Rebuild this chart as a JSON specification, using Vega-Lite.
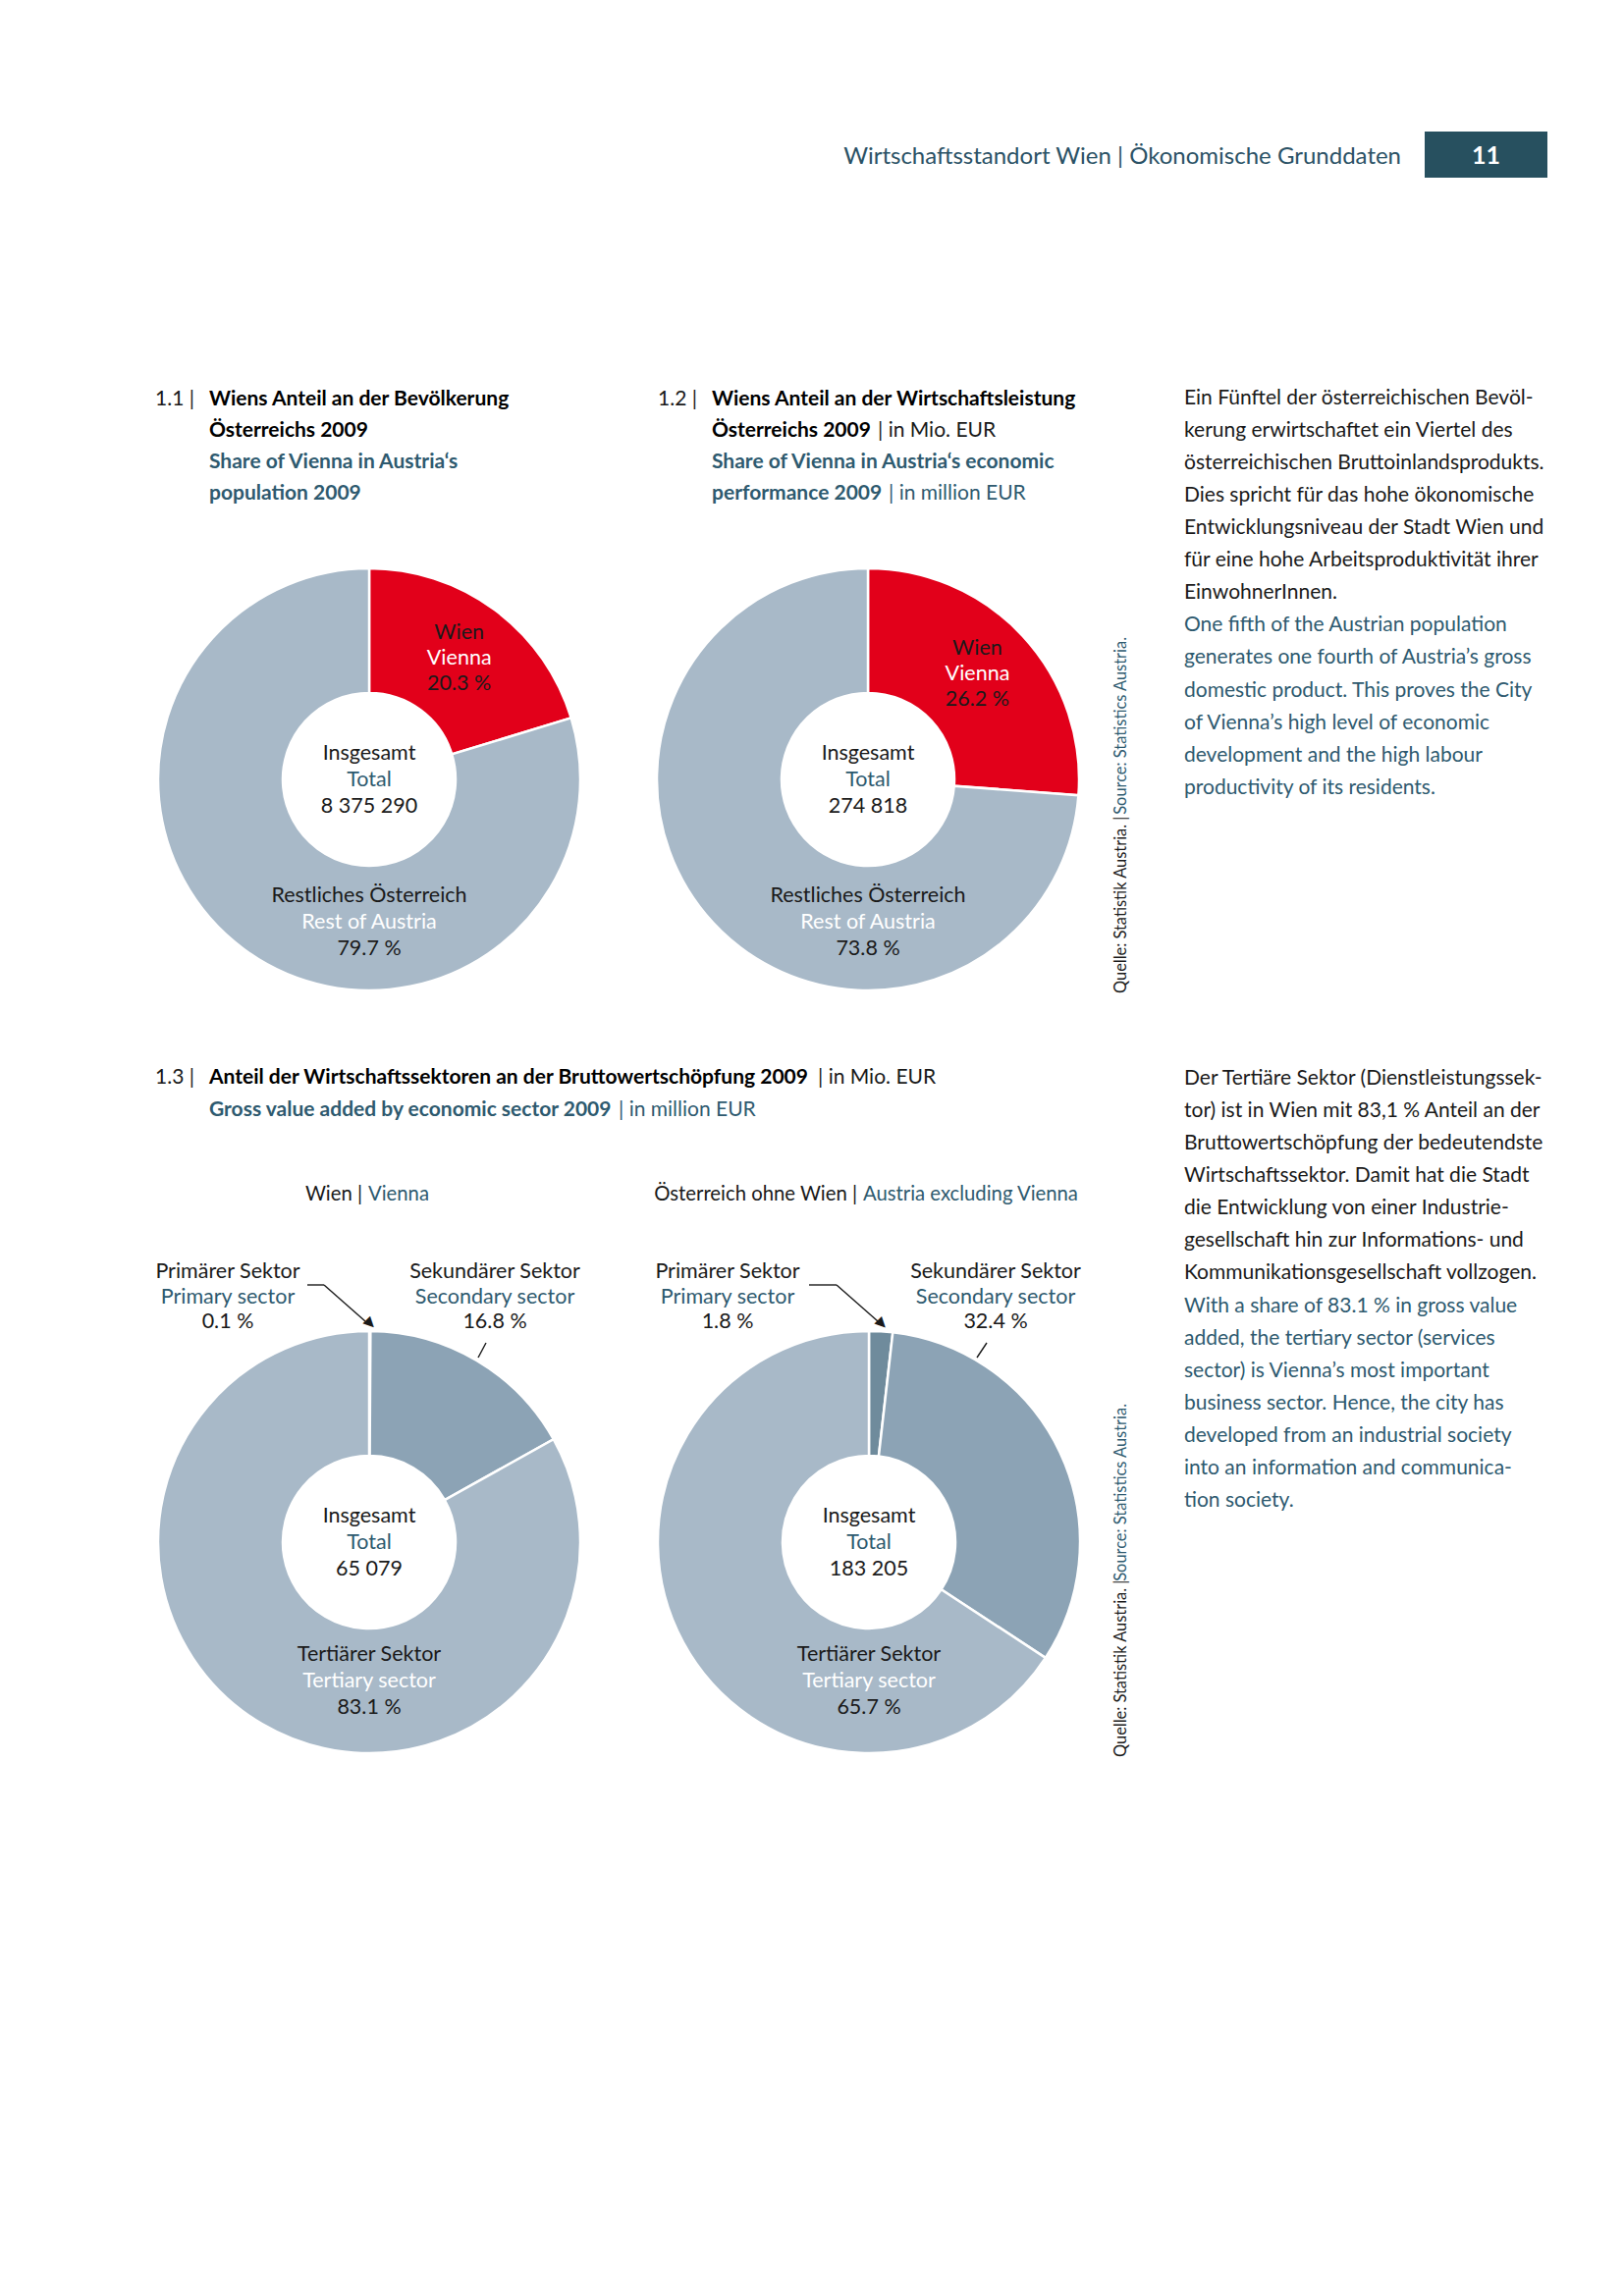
{
  "$schema": "https://vega.github.io/schema/vega-lite/v6.json",
  "width": 1654,
  "height": 2339,
  "autosize": {"type": "fit", "contains": "padding"},
  "padding": 0,
  "background": "#ffffff",
  "config": {
    "view": {"stroke": null},
    "locale": {"number": {"decimal": ".", "thousands": " ", "grouping": [3], "currency": ["", ""], "percent": " %"}},
    "text": {"font": "Lato", "fontSize": 21.5, "baseline": "alphabetic", "align": "center", "fill": "#1a1a1a"}
  },
  "datasets": {
    "slices": [
      {"chart": "1.1", "k": 1, "de": "Wien", "en": "Vienna", "share": 0.203, "total": 8375290},
      {"chart": "1.1", "k": 2, "de": "Restliches Österreich", "en": "Rest of Austria", "share": 0.797, "total": 8375290},
      {"chart": "1.2", "k": 1, "de": "Wien", "en": "Vienna", "share": 0.262, "total": 274818},
      {"chart": "1.2", "k": 2, "de": "Restliches Österreich", "en": "Rest of Austria", "share": 0.738, "total": 274818},
      {"chart": "1.3a", "k": 1, "de": "Primärer Sektor", "en": "Primary sector", "share": 0.001, "total": 65079},
      {"chart": "1.3a", "k": 2, "de": "Sekundärer Sektor", "en": "Secondary sector", "share": 0.168, "total": 65079},
      {"chart": "1.3a", "k": 3, "de": "Tertiärer Sektor", "en": "Tertiary sector", "share": 0.831, "total": 65079},
      {"chart": "1.3b", "k": 1, "de": "Primärer Sektor", "en": "Primary sector", "share": 0.018, "total": 183205},
      {"chart": "1.3b", "k": 2, "de": "Sekundärer Sektor", "en": "Secondary sector", "share": 0.324, "total": 183205},
      {"chart": "1.3b", "k": 3, "de": "Tertiärer Sektor", "en": "Tertiary sector", "share": 0.657, "total": 183205}
    ]
  },
  "resolve": {"scale": {"theta": "independent"}},
  "layer": [
    {"data": {"values": [{}]}, "mark": {"type": "text", "text": "Wirtschaftsstandort Wien | Ökonomische Grunddaten", "x": 1427, "y": 167, "align": "right", "fontSize": 24, "fill": "#2b5266"}},
    {"data": {"values": [{}]}, "mark": {"type": "rect", "fill": "#27505f"}, "encoding": {"x": {"value": 1451}, "x2": {"value": 1576}, "y": {"value": 134}, "y2": {"value": 181}}},
    {"data": {"values": [{}]}, "mark": {"type": "text", "text": "11", "x": 1513.5, "y": 167, "fontSize": 25, "fontWeight": "bold", "fill": "#ffffff"}},

    {"data": {"values": [{}]}, "mark": {"type": "text", "text": "1.1 |", "x": 158, "y": 412.7, "align": "left", "fontSize": 21, "fill": "#1a1a1a"}},
    {"data": {"values": [{}]}, "mark": {"type": "text", "text": ["Wiens Anteil an der Bevölkerung", "Österreichs 2009"], "x": 213, "y": 412.7, "align": "left", "fontSize": 21, "fontWeight": "bold", "lineHeight": 32, "fill": "#000000"}},
    {"data": {"values": [{}]}, "mark": {"type": "text", "text": ["Share of Vienna in Austria‘s", "population 2009"], "x": 213, "y": 476.7, "align": "left", "fontSize": 21, "fontWeight": "bold", "lineHeight": 32, "fill": "#2e5a6f"}},

    {"data": {"values": [{}]}, "mark": {"type": "text", "text": "1.2 |", "x": 670, "y": 412.7, "align": "left", "fontSize": 21, "fill": "#1a1a1a"}},
    {"data": {"values": [{}]}, "mark": {"type": "text", "text": ["Wiens Anteil an der Wirtschaftsleistung", "Österreichs 2009"], "x": 725, "y": 412.7, "align": "left", "fontSize": 21, "fontWeight": "bold", "lineHeight": 32, "fill": "#000000"}},
    {"data": {"values": [{}]}, "mark": {"type": "text", "text": "| in Mio. EUR", "x": 894, "y": 444.7, "align": "left", "fontSize": 21, "fill": "#1a1a1a"}},
    {"data": {"values": [{}]}, "mark": {"type": "text", "text": ["Share of Vienna in Austria‘s economic", "performance 2009"], "x": 725, "y": 476.7, "align": "left", "fontSize": 21, "fontWeight": "bold", "lineHeight": 32, "fill": "#2e5a6f"}},
    {"data": {"values": [{}]}, "mark": {"type": "text", "text": "| in million EUR", "x": 905, "y": 508.7, "align": "left", "fontSize": 21, "fill": "#2e5a6f"}},

    {"data": {"values": [{}]}, "mark": {"type": "text", "text": ["Ein Fünftel der österreichischen Bevöl-", "kerung erwirtschaftet ein Viertel des", "österreichischen Bruttoinlandsprodukts.", "Dies spricht für das hohe ökonomische", "Entwicklungsniveau der Stadt Wien und", "für eine hohe Arbeitsproduktivität ihrer", "EinwohnerInnen."], "x": 1206, "y": 411.7, "align": "left", "fontSize": 21, "lineHeight": 33.1, "fill": "#1a1a1a"}},
    {"data": {"values": [{}]}, "mark": {"type": "text", "text": ["One fifth of the Austrian population", "generates one fourth of Austria’s gross", "domestic product. This proves the City", "of Vienna’s high level of economic", "development and the high labour", "productivity of its residents."], "x": 1206, "y": 643.4, "align": "left", "fontSize": 21, "lineHeight": 33.1, "fill": "#2e5a6f"}},

    {"data": {"values": [{}]}, "mark": {"type": "text", "text": "Quelle: Statistik Austria. |", "x": 1147, "y": 1012, "angle": 270, "align": "left", "fontSize": 16.4, "fill": "#1a1a1a"}},
    {"data": {"values": [{}]}, "mark": {"type": "text", "text": "Source: Statistics Austria.", "x": 1147, "y": 649, "angle": 270, "align": "right", "fontSize": 16.4, "fill": "#2e5a6f"}},

    {"data": {"values": [{}]}, "mark": {"type": "text", "text": "1.3 |", "x": 158, "y": 1104, "align": "left", "fontSize": 21, "fill": "#1a1a1a"}},
    {"data": {"values": [{}]}, "mark": {"type": "text", "text": "Anteil der Wirtschaftssektoren an der Bruttowertschöpfung 2009", "x": 213, "y": 1104, "align": "left", "fontSize": 21, "fontWeight": "bold", "fill": "#000000"}},
    {"data": {"values": [{}]}, "mark": {"type": "text", "text": "| in Mio. EUR", "x": 833, "y": 1104, "align": "left", "fontSize": 21, "fill": "#1a1a1a"}},
    {"data": {"values": [{}]}, "mark": {"type": "text", "text": "Gross value added by economic sector 2009", "x": 213, "y": 1137, "align": "left", "fontSize": 21, "fontWeight": "bold", "fill": "#2e5a6f"}},
    {"data": {"values": [{}]}, "mark": {"type": "text", "text": "| in million EUR", "x": 630, "y": 1137, "align": "left", "fontSize": 21, "fill": "#2e5a6f"}},

    {"data": {"values": [{}]}, "mark": {"type": "text", "text": "Wien |", "x": 369, "y": 1223, "align": "right", "fontSize": 20.3, "fill": "#1a1a1a"}},
    {"data": {"values": [{}]}, "mark": {"type": "text", "text": "Vienna", "x": 375, "y": 1223, "align": "left", "fontSize": 20.3, "fill": "#2e5a6f"}},
    {"data": {"values": [{}]}, "mark": {"type": "text", "text": "Österreich ohne Wien |", "x": 873, "y": 1223, "align": "right", "fontSize": 20.3, "fill": "#1a1a1a"}},
    {"data": {"values": [{}]}, "mark": {"type": "text", "text": "Austria excluding Vienna", "x": 879, "y": 1223, "align": "left", "fontSize": 20.3, "fill": "#2e5a6f"}},

    {"data": {"values": [{}]}, "mark": {"type": "text", "text": ["Der Tertiäre Sektor (Dienstleistungssek-", "tor) ist in Wien mit 83,1 % Anteil an der", "Bruttowertschöpfung der bedeutendste", "Wirtschaftssektor. Damit hat die Stadt", "die Entwicklung von einer Industrie-", "gesellschaft hin zur Informations- und", "Kommunikationsgesellschaft vollzogen."], "x": 1206, "y": 1105, "align": "left", "fontSize": 21, "lineHeight": 33.08, "fill": "#1a1a1a"}},
    {"data": {"values": [{}]}, "mark": {"type": "text", "text": ["With a share of 83.1 % in gross value", "added, the tertiary sector (services", "sector) is Vienna’s most important", "business sector. Hence, the city has", "developed from an industrial society", "into an information and communica-", "tion society."], "x": 1206, "y": 1336.6, "align": "left", "fontSize": 21, "lineHeight": 33.08, "fill": "#2e5a6f"}},

    {"data": {"values": [{}]}, "mark": {"type": "text", "text": "Quelle: Statistik Austria. |", "x": 1147, "y": 1790, "angle": 270, "align": "left", "fontSize": 16.4, "fill": "#1a1a1a"}},
    {"data": {"values": [{}]}, "mark": {"type": "text", "text": "Source: Statistics Austria.", "x": 1147, "y": 1430, "angle": 270, "align": "right", "fontSize": 16.4, "fill": "#2e5a6f"}},

    {"data": {"values": [{}]}, "mark": {"type": "rule", "stroke": "#1a1a1a", "strokeWidth": 1.4}, "encoding": {"x": {"value": 313}, "y": {"value": 1309}, "x2": {"value": 330}, "y2": {"value": 1309}}},
    {"data": {"values": [{}]}, "mark": {"type": "rule", "stroke": "#1a1a1a", "strokeWidth": 1.4}, "encoding": {"x": {"value": 330}, "y": {"value": 1309}, "x2": {"value": 372}, "y2": {"value": 1346}}},
    {"data": {"values": [{}]}, "mark": {"type": "rule", "stroke": "#1a1a1a", "strokeWidth": 1.4}, "encoding": {"x": {"value": 495}, "y": {"value": 1368}, "x2": {"value": 487}, "y2": {"value": 1383}}},
    {"data": {"values": [{}]}, "mark": {"type": "rule", "stroke": "#1a1a1a", "strokeWidth": 1.4}, "encoding": {"x": {"value": 824}, "y": {"value": 1309}, "x2": {"value": 852}, "y2": {"value": 1309}}},
    {"data": {"values": [{}]}, "mark": {"type": "rule", "stroke": "#1a1a1a", "strokeWidth": 1.4}, "encoding": {"x": {"value": 852}, "y": {"value": 1309}, "x2": {"value": 894}, "y2": {"value": 1346}}},
    {"data": {"values": [{}]}, "mark": {"type": "rule", "stroke": "#1a1a1a", "strokeWidth": 1.4}, "encoding": {"x": {"value": 1005}, "y": {"value": 1368}, "x2": {"value": 995}, "y2": {"value": 1383}}},

    {
      "data": {"name": "slices"},
      "transform": [{"filter": {"field": "chart", "equal": "1.1"}}],
      "encoding": {"x": {"value": 376}, "y": {"value": 794}},
      "layer": [
        {"mark": {"type": "arc", "outerRadius": 215, "innerRadius": 88, "stroke": "#ffffff", "strokeWidth": 2.5},
         "encoding": {
           "theta": {"field": "share", "type": "quantitative", "stack": true},
           "order": {"field": "k", "type": "quantitative"},
           "color": {"field": "de", "type": "nominal", "legend": null, "scale": {"domain": ["Wien", "Restliches Österreich", "Primärer Sektor", "Sekundärer Sektor", "Tertiärer Sektor"], "range": ["#e2001a", "#a8b9c8", "#6f8b9c", "#8ca3b5", "#a8b9c8"]}}}},
        {"mark": {"type": "text", "radius": 154, "dy": -19, "fill": "#1a1a1a"},
         "encoding": {"theta": {"field": "share", "type": "quantitative", "stack": true}, "order": {"field": "k", "type": "quantitative"}, "detail": {"field": "de"},
           "text": {"condition": {"test": "datum.k == 1", "field": "de", "type": "nominal"}, "value": ""}}},
        {"mark": {"type": "text", "radius": 154, "dy": 7, "fill": "#ffffff"},
         "encoding": {"theta": {"field": "share", "type": "quantitative", "stack": true}, "order": {"field": "k", "type": "quantitative"}, "detail": {"field": "de"},
           "text": {"condition": {"test": "datum.k == 1", "field": "en", "type": "nominal"}, "value": ""}}},
        {"mark": {"type": "text", "radius": 154, "dy": 33, "fill": "#1a1a1a"},
         "encoding": {"theta": {"field": "share", "type": "quantitative", "stack": true}, "order": {"field": "k", "type": "quantitative"}, "detail": {"field": "de"},
           "text": {"condition": {"test": "datum.k == 1", "field": "share", "type": "quantitative", "format": ".1%"}, "value": ""}}},
        {"transform": [{"filter": "datum.k == 2"}], "mark": {"type": "text", "dy": 125, "fill": "#1a1a1a"}, "encoding": {"text": {"field": "de", "type": "nominal"}}},
        {"transform": [{"filter": "datum.k == 2"}], "mark": {"type": "text", "dy": 152, "fill": "#ffffff"}, "encoding": {"text": {"field": "en", "type": "nominal"}}},
        {"transform": [{"filter": "datum.k == 2"}], "mark": {"type": "text", "dy": 179, "fill": "#1a1a1a"}, "encoding": {"text": {"field": "share", "type": "quantitative", "format": ".1%"}}},
        {"transform": [{"filter": "datum.k == 1"}], "mark": {"type": "text", "text": "Insgesamt", "dy": -20, "fill": "#1a1a1a"}},
        {"transform": [{"filter": "datum.k == 1"}], "mark": {"type": "text", "text": "Total", "dy": 7, "fill": "#2e5a6f"}},
        {"transform": [{"filter": "datum.k == 1"}], "mark": {"type": "text", "dy": 34, "fill": "#1a1a1a"}, "encoding": {"text": {"field": "total", "type": "quantitative", "format": ",d"}}}
      ]
    },

    {
      "data": {"name": "slices"},
      "transform": [{"filter": {"field": "chart", "equal": "1.2"}}],
      "encoding": {"x": {"value": 884}, "y": {"value": 794}},
      "layer": [
        {"mark": {"type": "arc", "outerRadius": 215, "innerRadius": 88, "stroke": "#ffffff", "strokeWidth": 2.5},
         "encoding": {
           "theta": {"field": "share", "type": "quantitative", "stack": true},
           "order": {"field": "k", "type": "quantitative"},
           "color": {"field": "de", "type": "nominal", "legend": null, "scale": {"domain": ["Wien", "Restliches Österreich", "Primärer Sektor", "Sekundärer Sektor", "Tertiärer Sektor"], "range": ["#e2001a", "#a8b9c8", "#6f8b9c", "#8ca3b5", "#a8b9c8"]}}}},
        {"mark": {"type": "text", "radius": 152, "dy": -24, "fill": "#1a1a1a"},
         "encoding": {"theta": {"field": "share", "type": "quantitative", "stack": true}, "order": {"field": "k", "type": "quantitative"}, "detail": {"field": "de"},
           "text": {"condition": {"test": "datum.k == 1", "field": "de", "type": "nominal"}, "value": ""}}},
        {"mark": {"type": "text", "radius": 152, "dy": 2, "fill": "#ffffff"},
         "encoding": {"theta": {"field": "share", "type": "quantitative", "stack": true}, "order": {"field": "k", "type": "quantitative"}, "detail": {"field": "de"},
           "text": {"condition": {"test": "datum.k == 1", "field": "en", "type": "nominal"}, "value": ""}}},
        {"mark": {"type": "text", "radius": 152, "dy": 28, "fill": "#1a1a1a"},
         "encoding": {"theta": {"field": "share", "type": "quantitative", "stack": true}, "order": {"field": "k", "type": "quantitative"}, "detail": {"field": "de"},
           "text": {"condition": {"test": "datum.k == 1", "field": "share", "type": "quantitative", "format": ".1%"}, "value": ""}}},
        {"transform": [{"filter": "datum.k == 2"}], "mark": {"type": "text", "dy": 125, "fill": "#1a1a1a"}, "encoding": {"text": {"field": "de", "type": "nominal"}}},
        {"transform": [{"filter": "datum.k == 2"}], "mark": {"type": "text", "dy": 152, "fill": "#ffffff"}, "encoding": {"text": {"field": "en", "type": "nominal"}}},
        {"transform": [{"filter": "datum.k == 2"}], "mark": {"type": "text", "dy": 179, "fill": "#1a1a1a"}, "encoding": {"text": {"field": "share", "type": "quantitative", "format": ".1%"}}},
        {"transform": [{"filter": "datum.k == 1"}], "mark": {"type": "text", "text": "Insgesamt", "dy": -20, "fill": "#1a1a1a"}},
        {"transform": [{"filter": "datum.k == 1"}], "mark": {"type": "text", "text": "Total", "dy": 7, "fill": "#2e5a6f"}},
        {"transform": [{"filter": "datum.k == 1"}], "mark": {"type": "text", "dy": 34, "fill": "#1a1a1a"}, "encoding": {"text": {"field": "total", "type": "quantitative", "format": ",d"}}}
      ]
    },

    {
      "data": {"name": "slices"},
      "transform": [{"filter": {"field": "chart", "equal": "1.3a"}}],
      "encoding": {"x": {"value": 376}, "y": {"value": 1571}},
      "layer": [
        {"mark": {"type": "arc", "outerRadius": 215, "innerRadius": 88, "stroke": "#ffffff", "strokeWidth": 2.5},
         "encoding": {
           "theta": {"field": "share", "type": "quantitative", "stack": true},
           "order": {"field": "k", "type": "quantitative"},
           "color": {"field": "de", "type": "nominal", "legend": null, "scale": {"domain": ["Wien", "Restliches Österreich", "Primärer Sektor", "Sekundärer Sektor", "Tertiärer Sektor"], "range": ["#e2001a", "#a8b9c8", "#6f8b9c", "#8ca3b5", "#a8b9c8"]}}}},
        {"mark": {"type": "text", "radius": 223, "angle": 315, "baseline": "middle", "font": "DejaVu Sans", "fontSize": 14, "fill": "#1a1a1a"},
         "encoding": {"theta": {"field": "share", "type": "quantitative", "stack": true}, "order": {"field": "k", "type": "quantitative"}, "detail": {"field": "de"},
           "text": {"condition": {"test": "datum.k == 1", "value": "▼"}, "value": ""}}},
        {"transform": [{"filter": "datum.k == 1"}], "mark": {"type": "text", "dx": -144, "dy": -269, "fill": "#1a1a1a"}, "encoding": {"text": {"field": "de", "type": "nominal"}}},
        {"transform": [{"filter": "datum.k == 1"}], "mark": {"type": "text", "dx": -144, "dy": -243, "fill": "#2e5a6f"}, "encoding": {"text": {"field": "en", "type": "nominal"}}},
        {"transform": [{"filter": "datum.k == 1"}], "mark": {"type": "text", "dx": -144, "dy": -218, "fill": "#1a1a1a"}, "encoding": {"text": {"field": "share", "type": "quantitative", "format": ".1%"}}},
        {"transform": [{"filter": "datum.k == 2"}], "mark": {"type": "text", "dx": 128, "dy": -269, "fill": "#1a1a1a"}, "encoding": {"text": {"field": "de", "type": "nominal"}}},
        {"transform": [{"filter": "datum.k == 2"}], "mark": {"type": "text", "dx": 128, "dy": -243, "fill": "#2e5a6f"}, "encoding": {"text": {"field": "en", "type": "nominal"}}},
        {"transform": [{"filter": "datum.k == 2"}], "mark": {"type": "text", "dx": 128, "dy": -218, "fill": "#1a1a1a"}, "encoding": {"text": {"field": "share", "type": "quantitative", "format": ".1%"}}},
        {"transform": [{"filter": "datum.k == 3"}], "mark": {"type": "text", "dy": 121, "fill": "#1a1a1a"}, "encoding": {"text": {"field": "de", "type": "nominal"}}},
        {"transform": [{"filter": "datum.k == 3"}], "mark": {"type": "text", "dy": 148, "fill": "#ffffff"}, "encoding": {"text": {"field": "en", "type": "nominal"}}},
        {"transform": [{"filter": "datum.k == 3"}], "mark": {"type": "text", "dy": 175, "fill": "#1a1a1a"}, "encoding": {"text": {"field": "share", "type": "quantitative", "format": ".1%"}}},
        {"transform": [{"filter": "datum.k == 1"}], "mark": {"type": "text", "text": "Insgesamt", "dy": -20, "fill": "#1a1a1a"}},
        {"transform": [{"filter": "datum.k == 1"}], "mark": {"type": "text", "text": "Total", "dy": 7, "fill": "#2e5a6f"}},
        {"transform": [{"filter": "datum.k == 1"}], "mark": {"type": "text", "dy": 34, "fill": "#1a1a1a"}, "encoding": {"text": {"field": "total", "type": "quantitative", "format": ",d"}}}
      ]
    },

    {
      "data": {"name": "slices"},
      "transform": [{"filter": {"field": "chart", "equal": "1.3b"}}],
      "encoding": {"x": {"value": 885}, "y": {"value": 1571}},
      "layer": [
        {"mark": {"type": "arc", "outerRadius": 215, "innerRadius": 88, "stroke": "#ffffff", "strokeWidth": 2.5},
         "encoding": {
           "theta": {"field": "share", "type": "quantitative", "stack": true},
           "order": {"field": "k", "type": "quantitative"},
           "color": {"field": "de", "type": "nominal", "legend": null, "scale": {"domain": ["Wien", "Restliches Österreich", "Primärer Sektor", "Sekundärer Sektor", "Tertiärer Sektor"], "range": ["#e2001a", "#a8b9c8", "#6f8b9c", "#8ca3b5", "#a8b9c8"]}}}},
        {"mark": {"type": "text", "radius": 223, "angle": 315, "baseline": "middle", "font": "DejaVu Sans", "fontSize": 14, "fill": "#1a1a1a"},
         "encoding": {"theta": {"field": "share", "type": "quantitative", "stack": true}, "order": {"field": "k", "type": "quantitative"}, "detail": {"field": "de"},
           "text": {"condition": {"test": "datum.k == 1", "value": "▼"}, "value": ""}}},
        {"transform": [{"filter": "datum.k == 1"}], "mark": {"type": "text", "dx": -144, "dy": -269, "fill": "#1a1a1a"}, "encoding": {"text": {"field": "de", "type": "nominal"}}},
        {"transform": [{"filter": "datum.k == 1"}], "mark": {"type": "text", "dx": -144, "dy": -243, "fill": "#2e5a6f"}, "encoding": {"text": {"field": "en", "type": "nominal"}}},
        {"transform": [{"filter": "datum.k == 1"}], "mark": {"type": "text", "dx": -144, "dy": -218, "fill": "#1a1a1a"}, "encoding": {"text": {"field": "share", "type": "quantitative", "format": ".1%"}}},
        {"transform": [{"filter": "datum.k == 2"}], "mark": {"type": "text", "dx": 129, "dy": -269, "fill": "#1a1a1a"}, "encoding": {"text": {"field": "de", "type": "nominal"}}},
        {"transform": [{"filter": "datum.k == 2"}], "mark": {"type": "text", "dx": 129, "dy": -243, "fill": "#2e5a6f"}, "encoding": {"text": {"field": "en", "type": "nominal"}}},
        {"transform": [{"filter": "datum.k == 2"}], "mark": {"type": "text", "dx": 129, "dy": -218, "fill": "#1a1a1a"}, "encoding": {"text": {"field": "share", "type": "quantitative", "format": ".1%"}}},
        {"transform": [{"filter": "datum.k == 3"}], "mark": {"type": "text", "dy": 121, "fill": "#1a1a1a"}, "encoding": {"text": {"field": "de", "type": "nominal"}}},
        {"transform": [{"filter": "datum.k == 3"}], "mark": {"type": "text", "dy": 148, "fill": "#ffffff"}, "encoding": {"text": {"field": "en", "type": "nominal"}}},
        {"transform": [{"filter": "datum.k == 3"}], "mark": {"type": "text", "dy": 175, "fill": "#1a1a1a"}, "encoding": {"text": {"field": "share", "type": "quantitative", "format": ".1%"}}},
        {"transform": [{"filter": "datum.k == 1"}], "mark": {"type": "text", "text": "Insgesamt", "dy": -20, "fill": "#1a1a1a"}},
        {"transform": [{"filter": "datum.k == 1"}], "mark": {"type": "text", "text": "Total", "dy": 7, "fill": "#2e5a6f"}},
        {"transform": [{"filter": "datum.k == 1"}], "mark": {"type": "text", "dy": 34, "fill": "#1a1a1a"}, "encoding": {"text": {"field": "total", "type": "quantitative", "format": ",d"}}}
      ]
    }
  ]
}
